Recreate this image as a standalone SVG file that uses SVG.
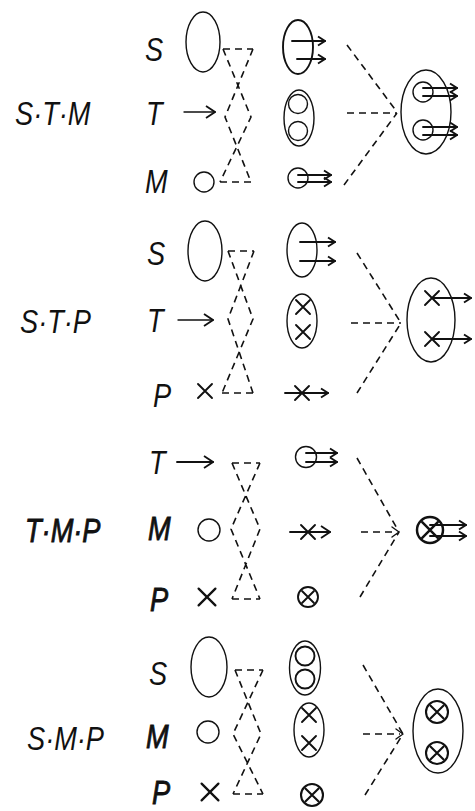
<svg xmlns="http://www.w3.org/2000/svg" width="475" height="811" viewBox="0 0 475 811">
  <style>
    .ln { fill: none; stroke: #111; stroke-width: 1.4; stroke-linecap: round; stroke-linejoin: round; }
    .hv { stroke-width: 1.9; }
    .ds { fill: none; stroke: #111; stroke-width: 1.6; stroke-dasharray: 7 5; }
    .ar { marker-end: url(#chev); }
    .arb { marker-end: url(#chevB); }
    .lbl { font-family: "Liberation Sans", "DejaVu Sans", sans-serif; font-style: italic; font-size: 34px; fill: #111; }
    .bd { stroke: #111; stroke-width: 0.9; }
  </style>
  <defs>
    <marker id="chev" viewBox="0 0 12 12" refX="11" refY="6" markerWidth="12" markerHeight="12" markerUnits="userSpaceOnUse" orient="auto">
      <path d="M4,1.5 L11,6 L4,10.5" fill="none" stroke="#111" stroke-width="1.9"/>
    </marker>
    <marker id="chevB" viewBox="0 0 16 16" refX="15" refY="8" markerWidth="16" markerHeight="16" markerUnits="userSpaceOnUse" orient="auto">
      <path d="M6,2 L15,8 L6,14" fill="none" stroke="#111" stroke-width="1.8"/>
    </marker>
    <g id="xm"><path d="M-7,-7 L7,7 M7,-7 L-7,7" class="ln hv"/></g>
    <g id="ox"><circle r="10" class="ln hv"/><path d="M-6,-6 L6,6 M6,-6 L-6,6" class="ln hv"/></g>
  </defs>

  <!-- panel 1: S.T.M -->
  <g id="stm">
    <text class="lbl" transform="translate(15,125) scale(0.8,1)">S·T·M</text>
    <g id="stm-s"><text class="lbl" transform="translate(145,61) scale(0.8,1)">S</text><ellipse cx="203" cy="42" rx="17" ry="30" class="ln"/></g>
    <g id="stm-t"><text class="lbl" transform="translate(146,125) scale(0.8,1)">T</text><path d="M184,112 H215" class="ln arb"/></g>
    <g id="stm-m"><text class="lbl" transform="translate(145,193) scale(0.8,1)">M</text><circle cx="204" cy="182" r="10" class="ln"/></g>
    <g id="stm-a"><ellipse cx="298" cy="47" rx="15" ry="27" class="ln hv"/>
      <path d="M292,41 H325" class="ln hv ar"/><path d="M297,59 H325" class="ln hv ar"/></g>
    <g id="stm-b"><ellipse cx="299" cy="118" rx="15" ry="28" class="ln"/><circle cx="298" cy="104" r="9.5" class="ln"/><circle cx="298" cy="131" r="9.5" class="ln"/></g>
    <g id="stm-c"><circle cx="298" cy="178" r="10" class="ln"/>
      <path d="M298,175 H331" class="ln hv ar"/><path d="M298,182 H331" class="ln hv ar"/></g>
    <g id="stm-r"><ellipse cx="426" cy="112" rx="25" ry="42" class="ln"/>
      <circle cx="423" cy="92" r="10" class="ln"/><path d="M423,88 H457" class="ln hv ar"/><path d="M423,96 H457" class="ln hv ar"/>
      <circle cx="423" cy="130" r="10" class="ln"/><path d="M423,127 H457" class="ln hv ar"/><path d="M423,135 H457" class="ln hv ar"/></g>
  </g>

  <!-- panel 2: S.T.P -->
  <g id="stp">
    <text class="lbl" transform="translate(20,333) scale(0.8,1)">S·T·P</text>
    <g id="stp-s"><text class="lbl" transform="translate(147,265) scale(0.8,1)">S</text><ellipse cx="205" cy="251" rx="17" ry="30" class="ln"/></g>
    <g id="stp-t"><text class="lbl" transform="translate(147,332) scale(0.8,1)">T</text><path d="M178,320 H213" class="ln arb"/></g>
    <g id="stp-p"><text class="lbl" transform="translate(153,407) scale(0.8,1)">P</text><use href="#xm" transform="translate(205,391)"/></g>
    <g id="stp-a"><ellipse cx="302" cy="250" rx="15" ry="27" class="ln"/>
      <path d="M300,242 H335" class="ln hv ar"/><path d="M300,261 H335" class="ln hv ar"/></g>
    <g id="stp-b"><ellipse cx="302" cy="321" rx="15" ry="27" class="ln"/><use href="#xm" transform="translate(303,307)"/><use href="#xm" transform="translate(303,332)"/></g>
    <g id="stp-c"><path d="M285,393 H328" class="ln hv ar"/><use href="#xm" transform="translate(302,393)"/></g>
    <g id="stp-r"><ellipse cx="431" cy="320" rx="24" ry="42" class="ln"/>
      <use href="#xm" transform="translate(432,298)"/><path d="M432,298 H471" class="ln hv ar"/>
      <use href="#xm" transform="translate(432,339)"/><path d="M432,339 H471" class="ln hv ar"/></g>
  </g>

  <!-- panel 3: T.M.P -->
  <g id="tmp">
    <text class="lbl bd" transform="translate(25,542) scale(0.8,1)">T·M·P</text>
    <g id="tmp-t"><text class="lbl" transform="translate(149,474) scale(0.8,1)">T</text><path d="M177,462 H213" class="ln hv arb"/></g>
    <g id="tmp-m"><text class="lbl bd" transform="translate(148,540) scale(0.8,1)">M</text><circle cx="209" cy="530" r="11" class="ln"/></g>
    <g id="tmp-p"><text class="lbl bd" transform="translate(150,611) scale(0.8,1)">P</text><use href="#xm" transform="translate(207,597) scale(1.2)"/></g>
    <g id="tmp-a"><circle cx="306" cy="457" r="10.5" class="ln"/>
      <path d="M306,453 H337" class="ln hv ar"/><path d="M306,462 H337" class="ln hv ar"/></g>
    <g id="tmp-b"><path d="M290,532 H330" class="ln hv arb"/><use href="#xm" transform="translate(308,532)"/></g>
    <g id="tmp-c"><use href="#ox" transform="translate(308,597)"/></g>
    <g id="tmp-r"><use href="#ox" transform="translate(430,530) scale(1.3)"/>
      <path d="M430,525 H466" class="ln hv ar"/><path d="M430,536 H466" class="ln hv ar"/></g>
  </g>

  <!-- panel 4: S.M.P -->
  <g id="smp">
    <text class="lbl" transform="translate(27,750) scale(0.8,1)">S·M·P</text>
    <g id="smp-s"><text class="lbl" transform="translate(149,685) scale(0.8,1)">S</text><ellipse cx="209" cy="667" rx="18" ry="30" class="ln"/></g>
    <g id="smp-m"><text class="lbl bd" transform="translate(146,748) scale(0.8,1)">M</text><circle cx="208" cy="732" r="11" class="ln"/></g>
    <g id="smp-p"><text class="lbl bd" transform="translate(152,804) scale(0.8,1)">P</text><use href="#xm" transform="translate(210,792) scale(1.2)"/></g>
    <g id="smp-a"><ellipse cx="305" cy="668" rx="15.5" ry="27" class="ln"/><circle cx="305" cy="656" r="9.5" class="ln hv"/><circle cx="305" cy="679" r="9.5" class="ln hv"/></g>
    <g id="smp-b"><ellipse cx="309" cy="730" rx="15" ry="27" class="ln"/><use href="#xm" transform="translate(309,715)"/><use href="#xm" transform="translate(309,743)"/></g>
    <g id="smp-c"><use href="#ox" transform="translate(312,795) scale(1.1)"/></g>
    <g id="smp-r"><ellipse cx="438" cy="731" rx="25" ry="42" class="ln"/>
      <use href="#ox" transform="translate(437,712) scale(1.1)"/><use href="#ox" transform="translate(437,753) scale(1.1)"/></g>
  </g>

  <!-- dashed connectors: hourglass links and convergence lines -->
  <g id="connectors">
    <path d="M223,49 H253 M223,49 L251,117 L220,182 M253,49 L225,117 L251,182 M220,182 H251" class="ds"/>
    <path d="M347,45 L397,112 M347,113 L397,113 M344,185 L397,113" class="ds"/>

    <path d="M228,251 H254 M228,251 L253,319 L222,393 M254,251 L228,319 L253,393 M222,393 H253" class="ds"/>
    <path d="M357,253 L401,323 M351,323 L401,323 M357,393 L401,323" class="ds"/>

    <path d="M232,463 H260 M232,463 L260,529 L232,599 M260,463 L231,529 L260,599 M232,599 H260" class="ds"/>
    <path d="M357,458 L399,532 M361,532 L396,532 M360,597 L399,532" class="ds"/>
    <path d="M392,527 L399,532 L392,537" class="ln"/>

    <path d="M235,670 H263 M235,670 L261,734 L233,794 M263,670 L233,734 L263,794 M233,794 H263" class="ds"/>
    <path d="M363,665 L403,734 M363,734 L400,734 M365,795 L403,734" class="ds"/>
    <path d="M396,729 L403,734 L396,739" class="ln"/>
  </g>
</svg>
